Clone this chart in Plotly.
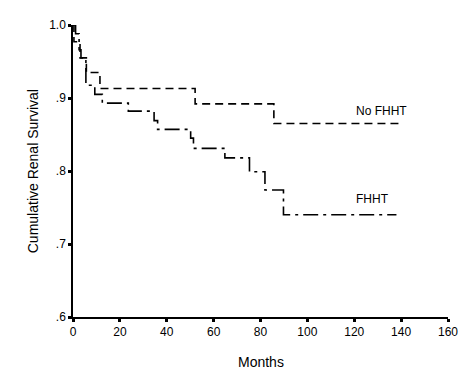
import plotly.graph_objects as go

# Kaplan-Meier step data
no_fhht_months = [0, 0.4, 3.0, 5.7, 11.5, 52.1, 85.7, 140.8]
no_fhht_surv = [1.0, 0.977, 0.955, 0.935, 0.913, 0.892, 0.865, 0.865]

fhht_months = [0, 1.1, 2.6, 3.4, 5.5, 9.3, 12.5, 23.6, 34.6, 36.1, 50.2, 51.4,
               64.8, 75.3, 81.9, 89.8, 138.0]
fhht_surv = [1.0, 0.988, 0.966, 0.955, 0.9175, 0.905, 0.893, 0.882, 0.869, 0.857,
             0.845, 0.831, 0.818, 0.799, 0.774, 0.740, 0.740]

x_ticks = [0, 20, 40, 60, 80, 100, 120, 140, 160]
y_ticks = [0.6, 0.7, 0.8, 0.9, 1.0]
y_tick_labels = [".6", ".7", ".8", ".9", "1.0"]

series_labels = ["No FHHT", "FHHT"]

tick_font = dict(family="Liberation Sans Narrow, Arial Narrow, Liberation Sans, Arial", size=12, color="black")
title_font = dict(family="Liberation Sans, Arial", size=14, color="black")
label_font = dict(family="Liberation Sans, Arial", size=12, color="black")

fig = go.Figure()
fig.add_trace(go.Scatter(
    x=no_fhht_months, y=no_fhht_surv, mode="lines", line_shape="hv",
    line=dict(color="black", width=1.6, dash="8px,5px"),
    cliponaxis=False, name=series_labels[0], showlegend=False))
fig.add_trace(go.Scatter(
    x=fhht_months, y=fhht_surv, mode="lines", line_shape="hv",
    line=dict(color="black", width=1.6, dash="15px,5px,3px,5px"),
    cliponaxis=False, name=series_labels[1], showlegend=False))

fig.add_annotation(x=120, y=0.8817, text=series_labels[0], showarrow=False,
                   xanchor="left", yanchor="middle", font=label_font)
fig.add_annotation(x=120, y=0.7613, text=series_labels[1], showarrow=False,
                   xanchor="left", yanchor="middle", font=label_font)

fig.add_annotation(xref="paper", yref="paper", x=-0.106, y=0.5, text="Cumulative Renal Survival",
                   textangle=-90, showarrow=False, xanchor="center", yanchor="middle", font=title_font)
fig.add_annotation(xref="paper", yref="paper", x=0.5, y=-0.154, text="Months",
                   showarrow=False, xanchor="center", yanchor="middle", font=title_font)

fig.update_xaxes(range=[0, 160], tickvals=x_ticks, ticktext=[str(v) for v in x_ticks],
                 showline=True, linecolor="black", linewidth=1.5, showgrid=False, zeroline=False,
                 ticks="outside", ticklen=3, tickwidth=2.5, tickcolor="black", tickfont=tick_font)
fig.update_yaxes(range=[0.6, 1.0], tickvals=y_ticks, ticktext=y_tick_labels,
                 showline=True, linecolor="black", linewidth=1.5, showgrid=False, zeroline=False,
                 ticks="outside", ticklen=3, tickwidth=2.5, tickcolor="black", tickfont=tick_font)

# page body has an 8px default margin, so the figure is offset accordingly
fig.update_layout(width=460, height=365, margin=dict(l=65, r=12, t=10, b=56),
                  plot_bgcolor="white", paper_bgcolor="white")

fig.write_html("out.html")
